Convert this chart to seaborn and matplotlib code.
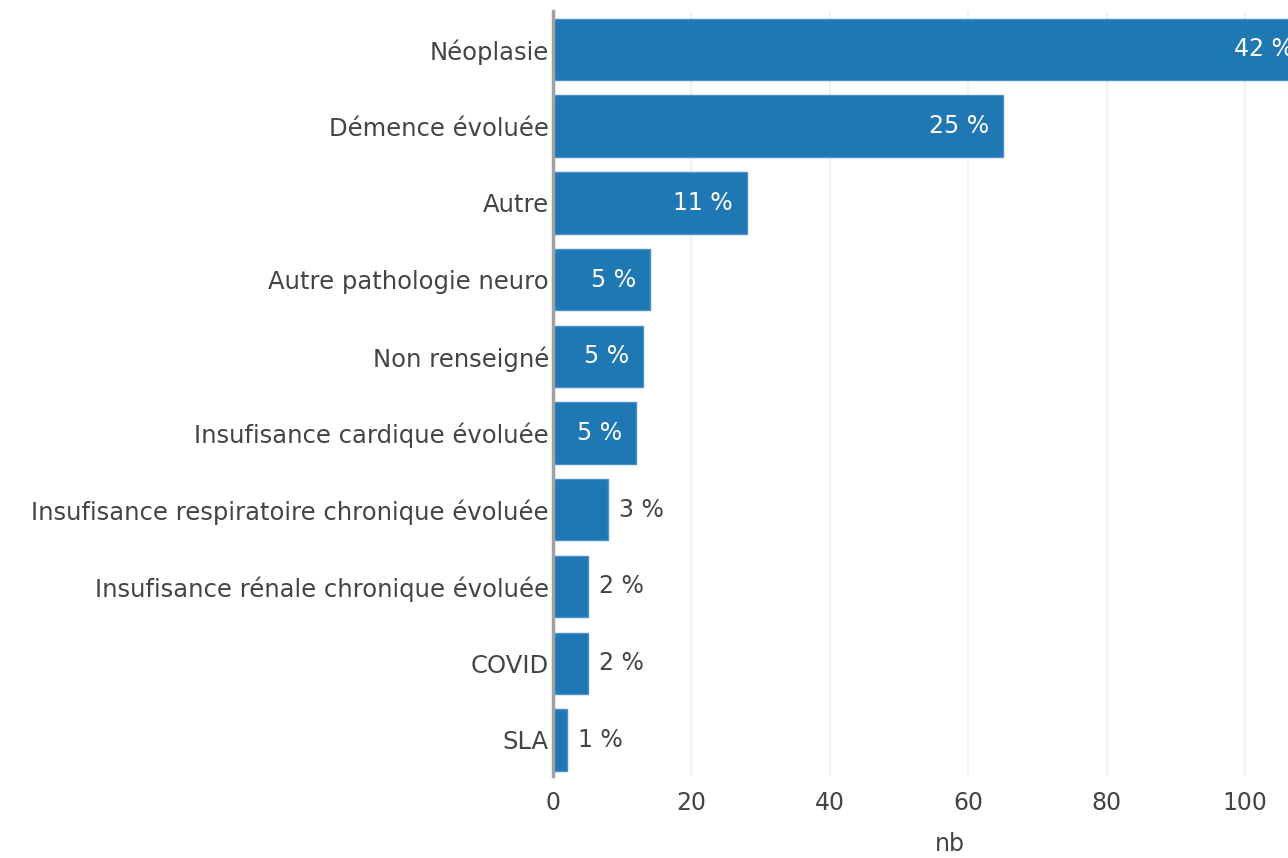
import matplotlib
matplotlib.use("Agg")
import matplotlib.pyplot as plt
import seaborn as sns
import pandas as pd

categories = ["Néoplasie", "Démence évoluée", "Autre", "Autre pathologie neuro",
              "Non renseigné", "Insufisance cardique évoluée",
              "Insufisance respiratoire chronique évoluée",
              "Insufisance rénale chronique évoluée", "COVID", "SLA"]
counts = [109, 65, 28, 14, 13, 12, 8, 5, 5, 2]
pct_labels = ["42 %", "25 %", "11 %", "5 %", "5 %", "5 %", "3 %", "2 %", "2 %", "1 %"]
inside = [True, True, True, True, True, True, False, False, False, False]

df = pd.DataFrame({"cause": categories, "nb": counts})

sns.set_theme(style="white")
plt.rcParams['font.family'] = ['DejaVu Sans']

W, H = 1288, 858
fig = plt.figure(figsize=(W / 100, H / 100), dpi=100)
left_px, right_px, top_px, bottom_px = 553, 1347, 11, 776
ax = fig.add_axes([left_px / W, 1 - bottom_px / H, (right_px - left_px) / W, (bottom_px - top_px) / H])

sns.barplot(data=df, x="nb", y="cause", orient="h", color="#1f77b4", saturation=1,
            width=0.8, edgecolor="#4a90c8", linewidth=1, ax=ax)

ax.set_xlim(0, 114.7)
ax.set_ylim(9.47, -0.5)
ax.set_xticks([0, 20, 40, 60, 80, 100])
ax.grid(axis="x", color="#f0f0f0", linewidth=1.2)
ax.grid(axis="y", visible=False)
ax.set_axisbelow(True)
for s in ["top", "right", "bottom"]:
    ax.spines[s].set_visible(False)
ax.spines["left"].set_color("#a0a0a0")
ax.spines["left"].set_linewidth(2.5)
ax.spines["left"].set_zorder(5)
ax.tick_params(axis="both", length=0, labelcolor="#444444")
ax.tick_params(axis="y", pad=3, labelsize=17.5)
ax.tick_params(axis="x", pad=11, labelsize=17)
ax.set_ylabel("")
ax.set_xlabel("nb", fontsize=17, color="#444444", labelpad=12)

cont = ax.containers[0]
txts = ax.bar_label(cont, labels=[l if i else "" for l, i in zip(pct_labels, inside)],
                    padding=-10, color="white", fontsize=17)
for t in txts:
    t.set_ha("right")
ax.bar_label(cont, labels=[l if not i else "" for l, i in zip(pct_labels, inside)],
             padding=8, color="#444444", fontsize=17)

fig.savefig("out.png", dpi=100)
